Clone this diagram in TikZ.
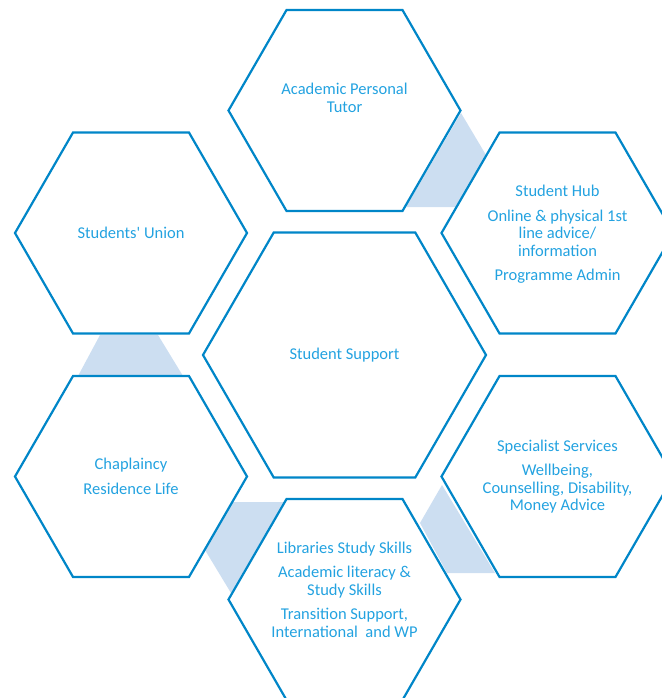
\documentclass[tikz,border=0pt]{standalone}
\usepackage{fontspec}
\setmainfont{Carlito}
\usetikzlibrary{shapes.geometric}

\definecolor{hexline}{RGB}{0,134,200}
\definecolor{hextext}{RGB}{35,162,224}
\definecolor{hexfill}{RGB}{204,222,241}

\tikzset{
  hexa/.style={regular polygon, regular polygon sides=6, draw=hexline,
    line width=2.2bp, minimum size=232bp, inner sep=0pt},
  hexlab/.style={text=hextext, align=center,
    font=\fontsize{16.5bp}{17.5bp}\selectfont},
  gap/.style={fill=hexfill}
}

\begin{document}
\begin{tikzpicture}[x=1bp, y=-1bp]

  \useasboundingbox (0,0) rectangle (662,698);
  \clip (0,0) rectangle (662,698);

  % shaded gaps between neighbouring cells
  \fill [gap] (461,113) -- (486,155) -- (457,207) -- (406,207) -- cycle;
  \fill [gap] (100,335) -- (158,335) -- (183,376) -- (78,376) -- cycle;
  \fill [gap] (233,502) -- (284,502) -- (231,593) -- (205,550) -- cycle;
  \fill [gap] (442,485) -- (495,573) -- (447,573) -- (420,523) -- cycle;

  % cells
  \node [hexa] (apt) at (344.5,110.5) {};
  \node [hexa] (hub) at (557.5,233) {};
  \node [hexa] (su) at (131,233) {};
  \node [hexa, minimum size=283bp] (cen) at (344.5,355) {};
  \node [hexa] (chap) at (131,476.5) {};
  \node [hexa] (spec) at (557.5,476.5) {};
  \node [hexa] (lib) at (344.5,599.5) {};

  % labels
  \node [hexlab] (aptlab) at ([yshift=12.5bp]apt.center) {Academic Personal\\Tutor};
  \node [hexlab] (hublab) at ([yshift=-1.5bp]hub.center)
    {Student Hub\\[7bp]Online \& physical 1st\\line advice/\\information\\[7bp]Programme Admin};
  \node [hexlab] (sulab) at (su.center) {Students\textquotesingle{} Union};
  \node [hexlab] (cenlab) at (cen.center) {Student Support};
  \node [hexlab] (chaplab) at (chap.center) {Chaplaincy\\[7bp]Residence Life};
  \node [hexlab] (speclab) at (spec.center)
    {Specialist Services\\[7bp]Wellbeing,\\Counselling, Disability,\\Money Advice};
  \node [hexlab] (liblab) at ([yshift=10bp]lib.center)
    {Libraries Study Skills\\[7bp]Academic literacy \&\\Study Skills\\[7bp]Transition Support,\\International\ \ and WP};

\end{tikzpicture}
\end{document}
